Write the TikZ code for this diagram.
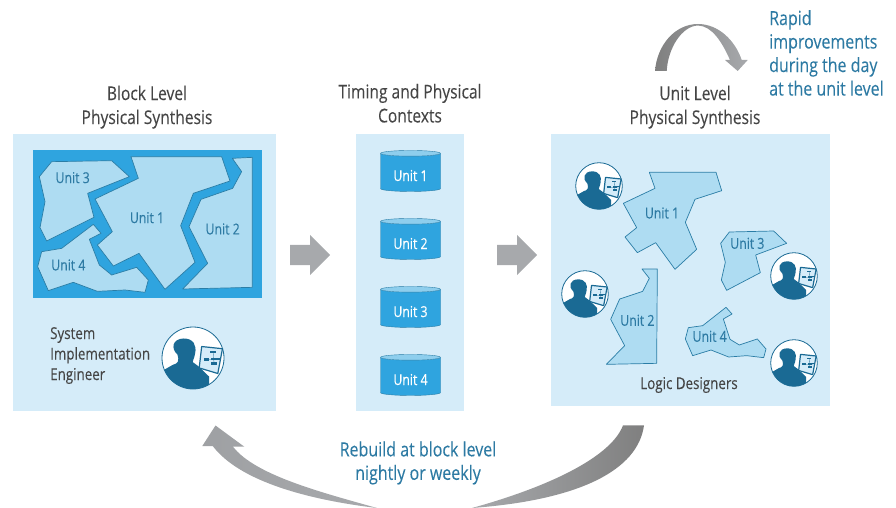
\documentclass[tikz,border=0pt]{standalone}
\usepackage{fontspec}
\setmainfont[FakeStretch=0.82,FakeBold=0.12]{Open Sans}
\usetikzlibrary{positioning,shapes.geometric,shapes.arrows}
\definecolor{panelblue}{HTML}{D5ECF9}
\definecolor{deepblue}{HTML}{2FA4DF}
\definecolor{unitblue}{HTML}{AEDCF2}
\definecolor{edgeblue}{HTML}{2A7DA6}
\definecolor{inkblue}{HTML}{1A6A94}
\definecolor{textblue}{HTML}{2D7AA3}
\definecolor{textgrey}{HTML}{454545}
\definecolor{arrowgrey}{HTML}{A7A9AC}
\begin{document}
\begin{tikzpicture}[x = 1pt, y = -1pt,
    panel/.style = { fill = panelblue, inner sep = 0, minimum width = #1 },
    unit/.style = { fill = unitblue, draw = edgeblue, line width = .7pt, line join = round },
    unitlabel/.style = { text = textblue, font = \fontsize{15}{17}\selectfont },
    title/.style = { align = center, text = textgrey, font = \fontsize{19}{24}\selectfont, inner sep = 0 },
    note/.style = { text = textblue, font = \fontsize{19.5}{23.5}\selectfont, inner sep = 0 },
    caption/.style = { text = textgrey, font = \fontsize{16.3}{20.5}\selectfont, inner sep = 0 },
    context/.style = { shape = cylinder, shape border rotate = 90, aspect = .1667, draw = edgeblue, line width = .4pt,
      cylinder uses custom fill, cylinder body fill = deepblue, cylinder end fill = unitblue!75!deepblue,
      minimum width = 60, minimum height = 41, inner sep = 0, text = white, font = \fontsize{15}{17}\selectfont },
    flow/.style = { shape = single arrow, fill = arrowgrey, minimum height = 40, anchor = tail,
      single arrow head extend = 10, inner xsep = 0, inner ysep = 10 },
    person/.pic = {
      \fill [white] (0,0) circle (1);
      \begin{scope}
        \clip (0,0) circle (1);
        \fill [inkblue] (-1,.42) -- (-.65,.22) .. controls (-.48,.18) and (-.44,.1) .. (-.5,-.11)
          .. controls (-.72,-.3) and (-.67,-.62) .. (-.3,-.63) .. controls (.02,-.63) and (.12,-.4) .. (.07,-.16)
          .. controls (.04,.05) and (-.03,.1) .. (-.01,.13) -- (.18,.27) -- (.52,.6) -- (.52,1) -- (-1,1) -- cycle;
      \end{scope}
      \draw [inkblue, line width = .8pt] (0,0) circle (1);
      \fill [panelblue, draw = inkblue, line width = 1.2pt, line join = round] (.28,-.37) -- (.95,-.3) -- (.8,.5) -- (.2,.32) -- cycle;
      \draw [inkblue, line width = .3pt] (.65,-.19) -- (.68,.18) (.43,.05) -- (.8,.05);
      \foreach \mx/\my in {.65/-.19, .43/.05, .68/.03, .82/.02, .68/.18}
        \fill [inkblue] (\mx-.09,\my-.035) rectangle (\mx+.09,\my+.035);
    }
  ]
  \useasboundingbox (0,0) rectangle (896,508);

  \node [panel = 263, minimum height = 277] (blockpanel) at (144.5,272.5) {};
  \node [panel = 108, minimum height = 277] (contextpanel) at (410,272.5) {};
  \node [panel = 279, minimum height = 272] (unitpanel) at (690.5,270) {};

  \node [title, above = 5pt of blockpanel, xshift = 2.5pt] (blocktitle) { Block Level \\ Physical Synthesis };
  \node [title, above = 11pt of contextpanel] (contexttitle) { Timing and Physical \\ Contexts };
  \node [title, above = 5pt of unitpanel.north, xshift = 4.5pt] (unittitle) { Unit Level \\ Physical Synthesis };

  \fill [deepblue] (33,150) rectangle (262,298);

  \begin{scope}[shift = {(0,130)}, x = 1pt/3, y = -1pt/3]
    \draw [unit] (155,95) -- (335,92) -- (388,140) -- (263,190) -- (282,262) -- (140,333) -- (120,293) -- (135,215) -- (118,140) -- cycle;
    \draw [unit] (393,80) -- (665,80) -- (690,153) -- (580,190) -- (542,287) -- (585,397) -- (495,478) -- (417,370) -- (340,408) -- (292,345) -- (337,305) -- (285,207) -- (415,145) -- cycle;
    \draw [unit] (697,85) -- (757,82) -- (757,472) -- (548,477) -- (623,400) -- (567,290) -- (603,208) -- (698,175) -- (725,125) -- cycle;
    \draw [unit] (125,365) -- (185,355) -- (280,283) -- (303,310) -- (268,328) -- (298,405) -- (335,435) -- (410,412) -- (445,450) -- (435,487) -- (375,480) -- (292,484) -- (220,457) -- (145,482) -- (113,410) -- cycle;
    \node [unitlabel] (blockunita) at (441,263) { Unit 1 };
    \node [unitlabel] (blockunitb) at (668,297) { Unit 2 };
    \node [unitlabel] (blockunitc) at (218,143) { Unit 3 };
    \node [unitlabel] (blockunitd) at (205,405) { Unit 4 };
  \end{scope}

  \begin{scope}[shift = {(545,130)}, x = 1pt/3, y = -1pt/3]
    \draw [unit] (313,127) -- (513,127) -- (530,182) -- (450,208) -- (421,277) -- (455,358) -- (390,418) -- (332,338) -- (277,368) -- (240,321) -- (275,293) -- (235,220) -- (330,175) -- cycle;
    \draw [unit] (291,417) -- (337,417) -- (335,700) -- (184,703) -- (239,647) -- (197,568) -- (224,507) -- (293,484) -- (313,445) -- cycle;
    \draw [unit] (553,306) -- (686,303) -- (725,340) -- (632,375) -- (646,428) -- (545,481) -- (529,450) -- (541,397) -- (527,340) -- cycle;
    \draw [unit] (430,593) -- (473,587) -- (543,532) -- (561,552) -- (535,567) -- (555,628) -- (583,645) -- (637,627) -- (663,657) -- (656,683) -- (605,677) -- (551,681) -- (498,660) -- (443,677) -- (421,627) -- cycle;
    \node [unitlabel] (designunita) at (351,249) { Unit 1 };
    \node [unitlabel] (designunitb) at (277,571) { Unit 2 };
    \node [unitlabel] (designunitc) at (607,340) { Unit 3 };
    \node [unitlabel] (designunitd) at (494,619) { Unit 4 };
  \end{scope}

  \foreach \n/\cy in {1/172.5, 2/240.5, 3/308.5, 4/376.5}
    \node [context] (context\n) at (410.5,\cy) { \raisebox{-8.5pt}[0pt][0pt]{Unit \n} };

  \node [flow] (flowa) at (290,255) {};
  \node [flow] (flowb) at (497,255) {};

  \node [caption, align = left, anchor = north west] (engineer) at (50,327) { System \\ Implementation \\ Engineer };
  \node [caption] (designers) at (689,385) { Logic Designers };

  \pic [scale = 31] (enginepic) at (193,358) {person};
  \foreach \px/\py in {599/186, 585/294, 794/276, 794/363}
    \pic [scale = 23.3] at (\px,\py) {person};

  \node [note, align = left, anchor = north west] (rapid) at (769,10) { Rapid \\ improvements \\ during the day \\ at the unit level };
  \node [note, align = center] (rebuild) at (418,463) { Rebuild at block level \\ nightly or weekly };

  \shade [left color = arrowgrey!95!black, right color = arrowgrey] (215.5,425.5) -- (244.3,446.7) -- (233,446.7)
    .. controls (255,475) and (320,492) .. (377,508) .. controls (310,500) and (240,482) .. (212.7,446) -- (202.3,446) -- cycle;
  \shade [left color = arrowgrey, right color = black!50] (644,425.3) .. controls (638,470) and (580,500) .. (472,508)
    .. controls (555,485) and (612,455) .. (623,425.3) -- cycle;
  \shade [left color = black!50, right color = arrowgrey] (655,71) .. controls (657,45) and (675,24) .. (698,24)
    .. controls (718,24) and (735,40) .. (741.7,60) -- (747.7,60) -- (737.7,71) -- (725,60) -- (730,60)
    .. controls (722,42) and (712,26) .. (698,25.5) .. controls (682,26) and (668,48) .. (666.7,71) -- cycle;
\end{tikzpicture}
\end{document}
